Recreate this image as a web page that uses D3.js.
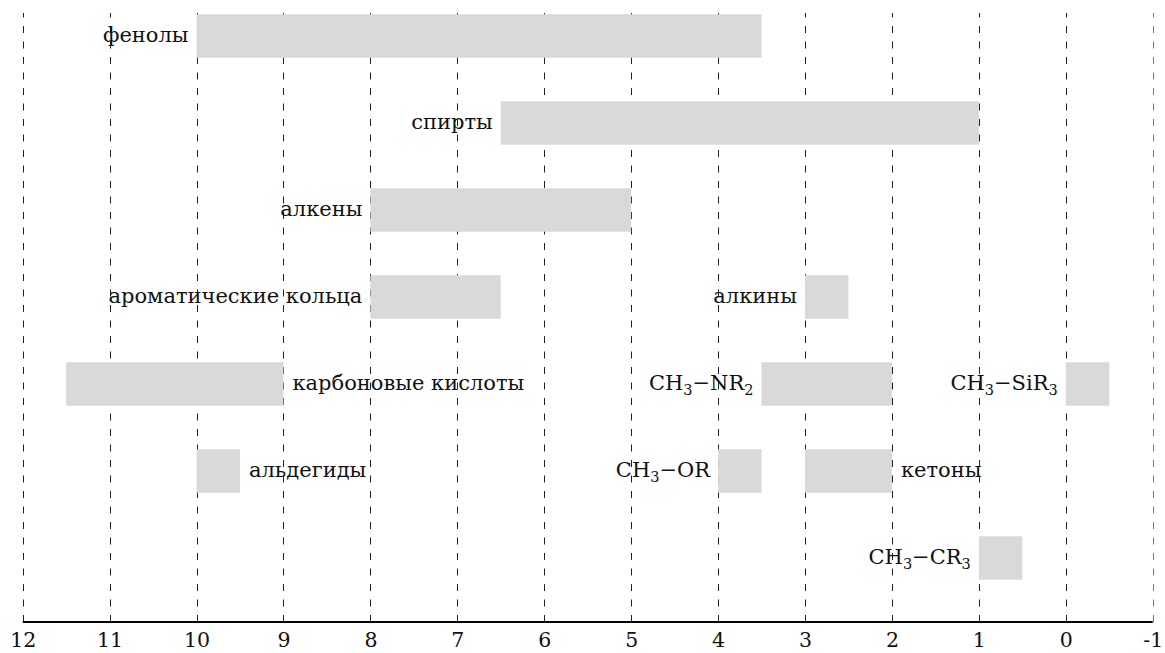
<!DOCTYPE html>
<html>
<head>
<meta charset="utf-8">
<script src="https://cdn.jsdelivr.net/npm/d3@7"></script>
<style>
  html, body { margin: 0; padding: 0; background: #fff; }
  svg { display: block; }
  text { font-family: "DejaVu Serif", serif; fill: #111; }
</style>
</head>
<body>
<svg id="chart" width="1165" height="653"></svg>
<script>
// ---- data ----
const groups   = ["фенолы", "спирты", "алкены", "ароматические кольца", "алкины",
                  "карбоновые кислоты", "CH3−NR2", "CH3−SiR3", "альдегиды",
                  "CH3−OR", "кетоны", "CH3−CR3"];
const rangeFrom = [10, 6.5, 8, 8, 3, 11.5, 3.5, 0, 10, 4, 3, 1];
const rangeTo   = [3.5, 1, 5, 6.5, 2.5, 9, 2, -0.5, 9.5, 3.5, 2, 0.5];
const rowIndex  = [0, 1, 2, 3, 3, 4, 4, 4, 5, 5, 5, 6];
const labelSide = ["left", "left", "left", "left", "left", "right", "left", "left",
                   "right", "left", "right", "left"];
const tickValues = [12, 11, 10, 9, 8, 7, 6, 5, 4, 3, 2, 1, 0, -1];

// ---- scales ----
const svg = d3.select("#chart");
const x = d3.scaleLinear().domain([12, -1]).range([22.7, 1152.7]);
const y = d3.scaleLinear().domain([0, 6]).range([36, 558]);
const axisY = 622;
const barH = 43.5;

// grid lines
svg.append("g").selectAll("line").data(tickValues).join("line")
  .attr("x1", d => Math.round(x(d)) + 0.5).attr("x2", d => Math.round(x(d)) + 0.5)
  .attr("y1", axisY).attr("y2", 13)
  .attr("stroke", d => d === -1 ? "#777" : "#222")
  .attr("stroke-width", 1)
  .attr("stroke-dasharray", "7,8.5");

// bars
const items = groups.map((g, i) => ({ g, a: rangeFrom[i], b: rangeTo[i], r: rowIndex[i], side: labelSide[i] }));
svg.append("g").selectAll("rect").data(items).join("rect")
  .attr("x", d => x(d.a))
  .attr("width", d => x(d.b) - x(d.a))
  .attr("y", d => y(d.r) - barH / 2)
  .attr("height", barH)
  .attr("fill", "#d9d9d9");

// labels
const lab = svg.append("g").selectAll("text").data(items).join("text")
  .attr("x", d => d.side === "left" ? x(d.a) - 8 : x(d.b) + 9)
  .attr("y", d => y(d.r) + 6)
  .attr("text-anchor", d => d.side === "left" ? "end" : "start")
  .style("font-size", "21px");

lab.each(function(d) {
  const t = d3.select(this);
  const m = d.g.match(/^CH3−(.*)$/);
  if (!m) { t.text(d.g); return; }
  t.append("tspan").text("CH");
  t.append("tspan").text("3").attr("dy", 5).style("font-size", "14.5px");
  t.append("tspan").text("−").attr("dy", -5);
  const rest = m[1];
  const mm = rest.match(/^(.*?)(\d)$/);
  if (mm) {
    t.append("tspan").text(mm[1]);
    t.append("tspan").text(mm[2]).attr("dy", 5).style("font-size", "14.5px");
  } else {
    t.append("tspan").text(rest);
  }
});

// x axis
const axis = d3.axisBottom(x).tickValues(tickValues).tickSize(0).tickPadding(0)
  .tickFormat(d => String(d));
const ag = svg.append("g").attr("transform", `translate(0,${axisY})`).call(axis);
ag.select(".domain").attr("stroke", "#000").attr("stroke-width", 2)
  .attr("d", `M${x(12)},0H${x(-1)}`);
ag.selectAll(".tick text")
  .attr("y", 25).attr("dy", null)
  .style("font-family", "DejaVu Serif, serif")
  .style("font-size", "20.5px")
  .attr("fill", "#111");
</script>
</body>
</html>
